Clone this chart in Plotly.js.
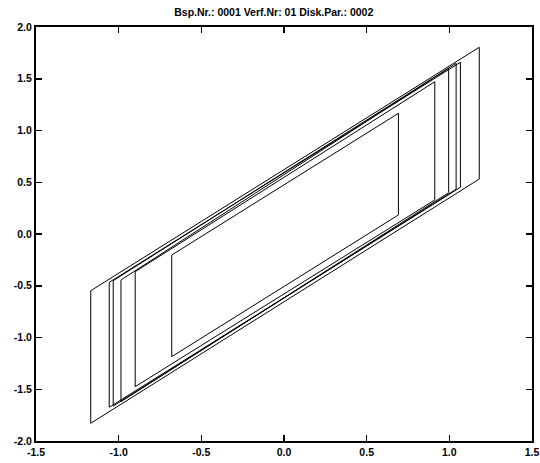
<!DOCTYPE html>
<html>
<head>
<meta charset="utf-8">
<script src="https://cdn.plot.ly/plotly-3.0.1.min.js"></script>
<style>html,body{margin:0;padding:0;background:#fff;}#chart{width:540px;height:463px;}</style>
</head>
<body>
<div id="chart"></div>
<script>
// Hysteresis loops: each loop has a left vertical edge and a right vertical edge
const leftX    = [-1.169, -1.057, -1.033, -0.986, -0.900, -0.679];
const leftTop  = [-0.548, -0.467, -0.451, -0.444, -0.364, -0.203];
const leftBot  = [-1.829, -1.674, -1.662, -1.620, -1.475, -1.185];
const rightX   = [1.181, 1.067, 1.041, 0.996, 0.912, 0.692];
const rightTop = [1.804, 1.659, 1.649, 1.601, 1.471, 1.166];
const rightBot = [0.531, 0.451, 0.432, 0.399, 0.329, 0.184];
const tickVals = [-1.5, -1.0, -0.5, 0.0, 0.5, 1.0, 1.5];
const yTickVals = [-2.0, -1.5, -1.0, -0.5, 0.0, 0.5, 1.0, 1.5, 2.0];
const titleText = 'Bsp.Nr.: 0001 Verf.Nr: 01 Disk.Par.: 0002';

const traces = leftX.map((lx, i) => ({
  type: 'scatter', mode: 'lines',
  x: [lx, rightX[i], rightX[i], lx, lx],
  y: [leftBot[i], rightBot[i], rightTop[i], leftTop[i], leftBot[i]],
  line: {color: '#000', width: 1},
  hoverinfo: 'skip', showlegend: false
}));

const fnt = {family: 'Liberation Sans, Arial, sans-serif', size: 10.5, color: '#000', weight: 'bold'};
const axisCommon = {
  showgrid: false, zeroline: false,
  showline: true, linecolor: '#000', linewidth: 2, mirror: 'ticks',
  ticks: 'inside', ticklen: 6, tickwidth: 1.5, tickcolor: '#000',
  tickfont: fnt, fixedrange: true
};
const layout = {
  width: 540, height: 463,
  margin: {l: 36, r: 8, t: 27, b: 22},
  paper_bgcolor: '#fff', plot_bgcolor: '#fff',
  showlegend: false,
  title: {text: titleText, font: fnt, x: 0.507, xref: 'container', xanchor: 'center', y: 0.974, yref: 'container', yanchor: 'middle'},
  xaxis: Object.assign({}, axisCommon, {range: [-1.5, 1.5], tickmode: 'array', tickvals: tickVals, ticktext: tickVals.map(v => v.toFixed(1))}),
  yaxis: Object.assign({}, axisCommon, {range: [-2, 2], tickmode: 'array', tickvals: yTickVals, ticktext: yTickVals.map(v => v.toFixed(1))})
};
Plotly.newPlot('chart', traces, layout, {displayModeBar: false, staticPlot: true});
</script>
</body>
</html>
